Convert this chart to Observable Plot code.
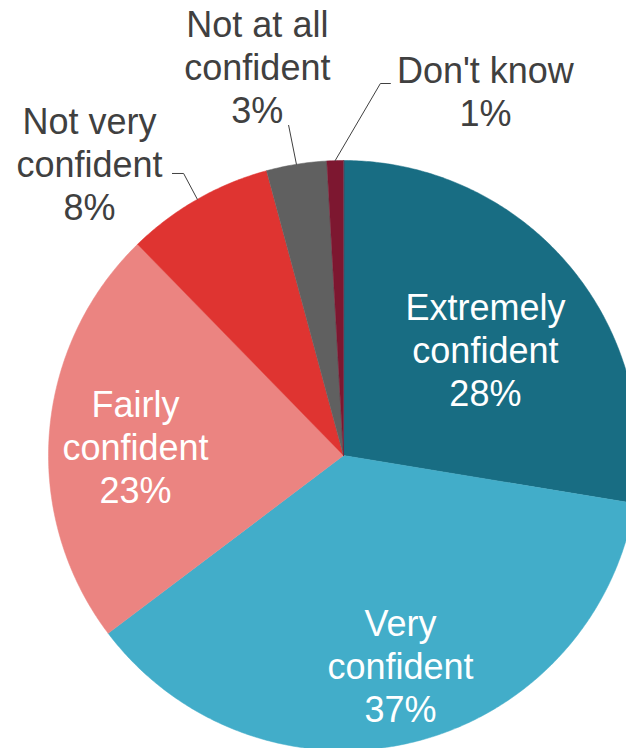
<!DOCTYPE html>
<html>
<head>
<meta charset="utf-8">
<script src="https://cdn.jsdelivr.net/npm/d3@7"></script>
<script src="https://cdn.jsdelivr.net/npm/@observablehq/plot@0.6"></script>
<style>
  html, body { margin: 0; padding: 0; background: #fff; }
  #chart { width: 626px; height: 748px; overflow: hidden; }
</style>
</head>
<body>
<div id="chart"></div>
<script>
// ---- Data ----
const categories = ["Extremely confident", "Very confident", "Fairly confident", "Not very confident", "Not at all confident", "Don't know"];
const labelText = ["Extremely\nconfident", "Very\nconfident", "Fairly\nconfident", "Not very\nconfident", "Not at all\nconfident", "Don't know"];
// shares (labels show them rounded)
const values = [27.6, 37.1, 23.0, 8.1, 3.3, 0.9];
const colors = ["#186D83", "#42ADC9", "#EB8481", "#DF3431", "#606060", "#7D1730"];

// ---- Label layout (in pie-radius units, relative to pie centre) ----
const labelInside = [true, true, true, false, false, false];
const labelPos = [[0.481, 0.360], [0.193, -0.710], [-0.705, 0.032], [-0.861, 0.990], [-0.292, 1.318], [0.481, 1.235]];
const leaderVerts = [null, null, null, [[-0.580, 0.956], [-0.542, 0.956]], [[-0.186, 1.119]], [[0.159, 1.261], [0.125, 1.261]]];

// ---- Geometry from the values ----
const total = d3.sum(values);
let acc = 0;
const slices = categories.map((name, i) => {
  const a0 = acc / total * 2 * Math.PI;
  acc += values[i];
  const a1 = acc / total * 2 * Math.PI;
  return {name, i, a0, a1, value: values[i], color: colors[i]};
});
const pt = (a, r) => [r * Math.sin(a), r * Math.cos(a)];

const polys = slices.map(s => {
  const pts = [[0, 0]];
  const n = Math.max(2, Math.ceil((s.a1 - s.a0) / (Math.PI / 360)));
  for (let k = 0; k <= n; k++) {
    const a = s.a0 + (s.a1 - s.a0) * k / n;
    pts.push(pt(a, 1));
  }
  return pts.map(([x, y]) => ({x, y, name: s.name}));
});

const leaders = slices.filter((s, i) => leaderVerts[i]).map(s => {
  const mid = (s.a0 + s.a1) / 2;
  const verts = leaderVerts[s.i].concat([pt(mid, 1)]);
  return verts.map(([x, y]) => ({x, y, name: s.name}));
});

const labels = slices.map(s => ({
  x: labelPos[s.i][0],
  y: labelPos[s.i][1],
  text: labelText[s.i] + "\n" + Math.round(s.value) + "%",
  inside: labelInside[s.i]
}));

const chart = Plot.plot({
  width: 626,
  height: 748,
  margin: 0,
  x: {domain: [-1, 1], range: [48, 638], axis: null},
  y: {domain: [-1, 1], range: [750, 160], axis: null},
  style: {fontFamily: "'Liberation Sans', Arial, sans-serif", background: "#fff"},
  marks: [
    ...polys.map((p, i) => Plot.line(p, {x: "x", y: "y", fill: colors[i], stroke: colors[i], strokeWidth: 0.5, curve: "linear-closed"})),
    ...leaders.map(l => Plot.line(l, {x: "x", y: "y", stroke: "#404040", strokeWidth: 1})),
    Plot.text(labels, {
      x: "x", y: "y", text: "text",
      fill: d => d.inside ? "#ffffff" : "#404040",
      fontSize: 36, lineHeight: 1.195, textAnchor: "middle"
    })
  ]
});
document.getElementById("chart").appendChild(chart);
</script>
</body>
</html>
